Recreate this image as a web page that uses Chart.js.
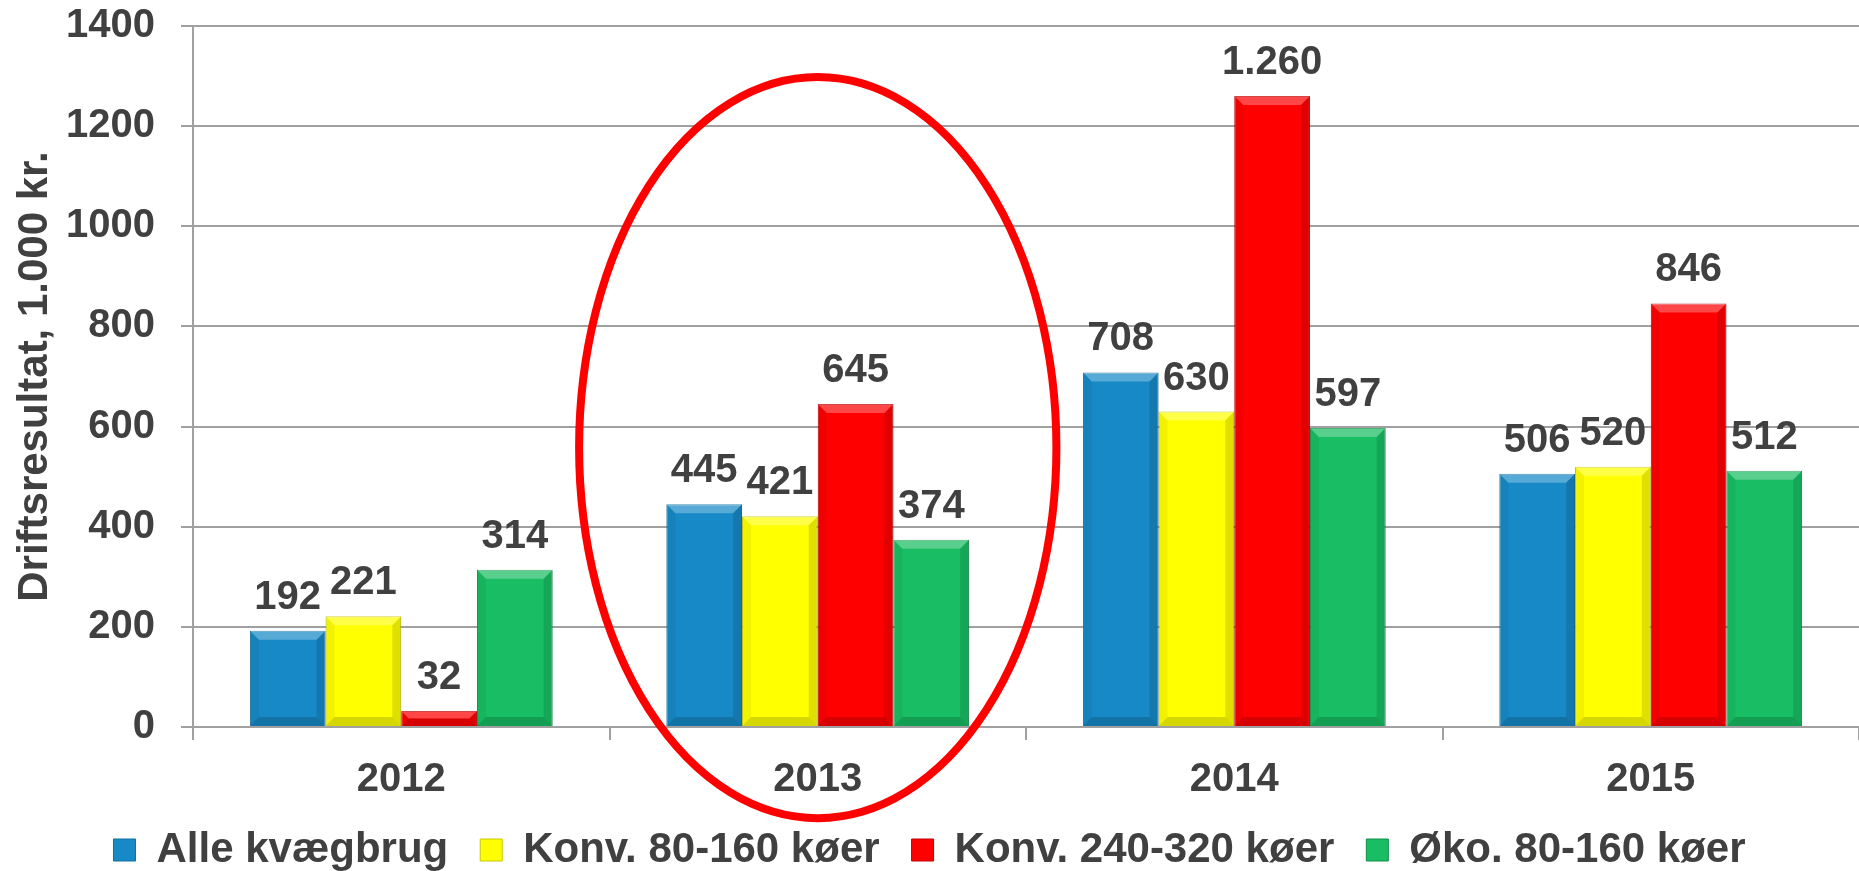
<!DOCTYPE html>
<html>
<head>
<meta charset="utf-8">
<script src="https://cdn.jsdelivr.net/npm/chart.js@4"></script>
<style>
    html, body { margin: 0; padding: 0; background: #ffffff; }
    #chart { display: block; }
</style>
</head>
<body>
<canvas id="chart" width="1859" height="871"></canvas>
<script>
// Driftsresultat per år og bedriftstype (1.000 kr.)
const years = ['2012', '2013', '2014', '2015'];
const alleKvaegbrug = [192, 445, 708, 506];
const konv80160 = [221, 421, 630, 520];
const konv240320 = [32, 645, 1260, 846];
const oko80160 = [314, 374, 597, 512];
const seriesNames = ['Alle kvægbrug', 'Konv. 80-160 køer', 'Konv. 240-320 køer', 'Øko. 80-160 køer'];

const FONT = '"Liberation Sans", Arial, sans-serif';
const TEXT = '#404040';
const GRID = '#a0a0a0';

const colors = {
    fill: ['#1789c6', '#ffff00', '#ff0000', '#19bd63'],
    border: ['#126f9f', '#c8c800', '#c00000', '#12904a']
};

// Red ring drawn round the 2013 group
const highlight = { index: 1, centerValue: 558, radiusValue: 740, radiusCat: 0.573, width: 8, color: '#ff0000' };

function formatDa(v) {
    return String(v).replace(/\B(?=(\d{3})+(?!\d))/g, '.');
}

/**
 * Bevel shading on the bars (light top, darker sides/bottom)
 */
const bevelPlugin = {
    id: 'bevel',
    afterDatasetsDraw(chart) {
        const ctx = chart.ctx;
        ctx.save();
        chart.data.datasets.forEach((ds, i) => {
            chart.getDatasetMeta(i).data.forEach(bar => {
                const w = bar.width;
                const x0 = bar.x - w / 2, x1 = bar.x + w / 2;
                const top = Math.min(bar.y, bar.base), bottom = Math.max(bar.y, bar.base);
                const b = Math.min(9, (bottom - top) / 2);
                const poly = (pts, fill) => {
                    ctx.beginPath();
                    ctx.moveTo(pts[0][0], pts[0][1]);
                    pts.slice(1).forEach(p => ctx.lineTo(p[0], p[1]));
                    ctx.closePath();
                    ctx.fillStyle = fill;
                    ctx.fill();
                };
                poly([[x0, top], [x1, top], [x1 - b, top + b], [x0 + b, top + b]], 'rgba(255,255,255,0.28)');
                poly([[x0, top], [x0 + b, top + b], [x0 + b, bottom - b], [x0, bottom]], 'rgba(0,0,0,0.05)');
                poly([[x1, top], [x1 - b, top + b], [x1 - b, bottom - b], [x1, bottom]], 'rgba(0,0,0,0.12)');
                poly([[x0, bottom], [x0 + b, bottom - b], [x1 - b, bottom - b], [x1, bottom]], 'rgba(0,0,0,0.16)');
            });
        });
        ctx.restore();
    }
};

/**
 * Value labels above each bar
 */
const valueLabels = {
    id: 'valueLabels',
    afterDatasetsDraw(chart) {
        const ctx = chart.ctx;
        ctx.save();
        ctx.font = `bold 40px ${FONT}`;
        ctx.fillStyle = TEXT;
        ctx.textAlign = 'center';
        ctx.textBaseline = 'alphabetic';
        chart.data.datasets.forEach((ds, i) => {
            chart.getDatasetMeta(i).data.forEach((bar, j) => {
                ctx.fillText(formatDa(ds.data[j]), bar.x, bar.y - 22);
            });
        });
        ctx.restore();
    }
};

/**
 * Ellipse around the highlighted year
 */
const ringPlugin = {
    id: 'ring',
    afterDraw(chart) {
        const x = chart.scales.x, y = chart.scales.y;
        const cx = x.getPixelForValue(highlight.index);
        const catW = x.getPixelForValue(1) - x.getPixelForValue(0);
        const cy = y.getPixelForValue(highlight.centerValue);
        const ry = y.getPixelForValue(0) - y.getPixelForValue(highlight.radiusValue);
        const ctx = chart.ctx;
        ctx.save();
        ctx.strokeStyle = highlight.color;
        ctx.lineWidth = highlight.width;
        ctx.beginPath();
        ctx.ellipse(cx, cy, catW * highlight.radiusCat, ry, 0, 0, Math.PI * 2);
        ctx.stroke();
        ctx.restore();
    }
};

const seriesData = [alleKvaegbrug, konv80160, konv240320, oko80160];

new Chart(document.getElementById('chart'), {
    type: 'bar',
    data: {
        labels: years,
        datasets: seriesData.map((d, i) => ({
            label: seriesNames[i],
            data: d,
            backgroundColor: colors.fill[i],
            borderColor: colors.border[i],
            borderWidth: 1,
            barPercentage: 1,
            categoryPercentage: 0.727
        }))
    },
    options: {
        responsive: false,
        animation: false,
        devicePixelRatio: 1,
        layout: {
            padding: { top: 0, right: 0, bottom: 0, left: 0 }
        },
        plugins: {
            legend: {
                position: 'bottom',
                maxHeight: 74,
                labels: {
                    color: TEXT,
                    font: { family: FONT, size: 42, weight: 'bold' },
                    boxWidth: 22,
                    boxHeight: 22,
                    padding: 32
                }
            },
            tooltip: { enabled: false }
        },
        scales: {
            x: {
                grid: {
                    offset: true,
                    drawOnChartArea: false,
                    drawTicks: true,
                    tickLength: 13,
                    color: GRID,
                    lineWidth: 2
                },
                border: { color: GRID, width: 2 },
                ticks: {
                    color: TEXT,
                    font: { family: FONT, size: 40, weight: 'bold' },
                    padding: 16
                },
                afterFit(scale) {
                    scale.height = 70;
                }
            },
            y: {
                min: 0,
                max: 1400,
                ticks: {
                    stepSize: 200,
                    color: TEXT,
                    font: { family: FONT, size: 40, weight: 'bold' },
                    padding: 26,
                    callback: v => String(v)
                },
                grid: {
                    color: GRID,
                    lineWidth: 2,
                    tickLength: 12
                },
                border: { color: GRID, width: 2 },
                title: {
                    display: true,
                    text: 'Driftsresultat, 1.000 kr.',
                    color: TEXT,
                    font: { family: FONT, size: 42, weight: 'bold' },
                    padding: { top: 10, bottom: 0 }
                },
                afterFit(scale) {
                    scale.width = 193;
                    scale.paddingTop = 26;
                    scale.paddingBottom = 0;
                }
            }
        }
    },
    plugins: [bevelPlugin, valueLabels, ringPlugin]
});
</script>
</body>
</html>
